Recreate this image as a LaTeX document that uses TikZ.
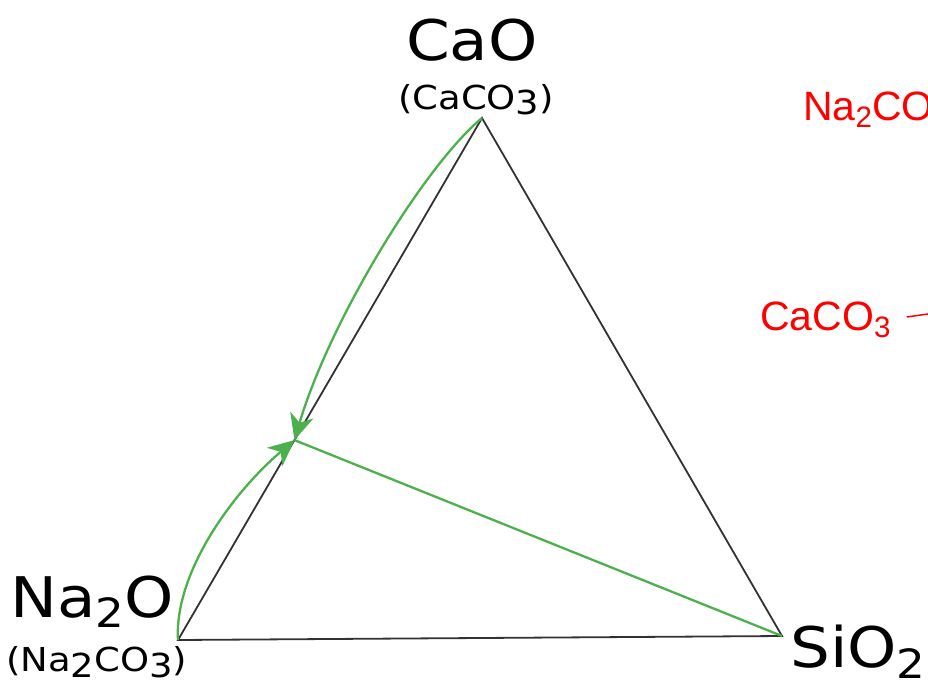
\documentclass[tikz,border=0pt]{standalone}
\usepackage{fontspec}
\setmainfont[FakeStretch=1.12]{DejaVu Sans}
\newfontfamily\notefont{Liberation Sans}
\usetikzlibrary{arrows.meta,calc}
\definecolor{tiegreen}{RGB}{76,176,76}
\definecolor{sidegray}{RGB}{50,50,50}
\definecolor{notered}{RGB}{255,0,0}
\newcommand{\low}[1]{\raisebox{-0.3ex}{#1}}
\newcommand{\sub}[1]{\raisebox{-0.35ex}{\scalebox{0.72}{#1}}}

\begin{document}
\begin{tikzpicture}[x=1pt,y=-1pt,
  side/.style={sidegray, line width=1.8pt},
  tie/.style={tiegreen, line width=2.3pt},
  flow/.style={tiegreen, line width=2.3pt, -{Stealth[length=26pt,width=24pt,inset=8pt]}},
  oxide/.style={font=\fontsize{56}{60}\selectfont, inner sep=0pt},
  source/.style={font=\fontsize{33}{36}\selectfont, inner sep=0pt},
  note/.style={notered, font=\notefont\fontsize{41}{44}\selectfont, inner sep=0pt}]

\useasboundingbox (0,0) rectangle (928,690);
\clip (0,0) rectangle (928,690);

% corners of the triangle
\coordinate (na2o) at (178,640);
\coordinate (cao) at (482,118);
\coordinate (sio2) at (782,636);
\coordinate (mix) at ($(na2o)!0.383!(cao)$);

\draw[side] (na2o) -- (cao) -- (sio2) -- cycle;
\draw[tie] (mix) -- (sio2);

% additions along the Na2O--CaO side
\draw[flow] (cao) .. controls (425,165) and (330,320) .. (mix);
\draw[flow] (na2o) .. controls (174,575) and (230,495) .. (mix);

% labels
\node[oxide] (caolabel) at (472,40) {CaO};
\node[source] (caosrc) at (476,100) {(CaCO\low{3})};
\node[oxide, anchor=south west] (na2olabel) at (10,628) {Na\sub{2}O};
\node[source, anchor=west] (na2osrc) at (6,662) {(Na\low{2}CO\low{3})};
\node[oxide, anchor=west] (sio2label) at (790,652) {SiO\sub{2}};

\node[note, anchor=west] (na2co3note) at (803,110) {Na\sub{2}CO\sub{3}};
\node[note, anchor=west] (caco3note) at (760,320) {CaCO\sub{3}};
\coordinate (caco3arrow) at (935,313);
\draw[notered, line width=1.5pt] ($(caco3note.east)+(16,-3)$) -- (caco3arrow);

\end{tikzpicture}
\end{document}
